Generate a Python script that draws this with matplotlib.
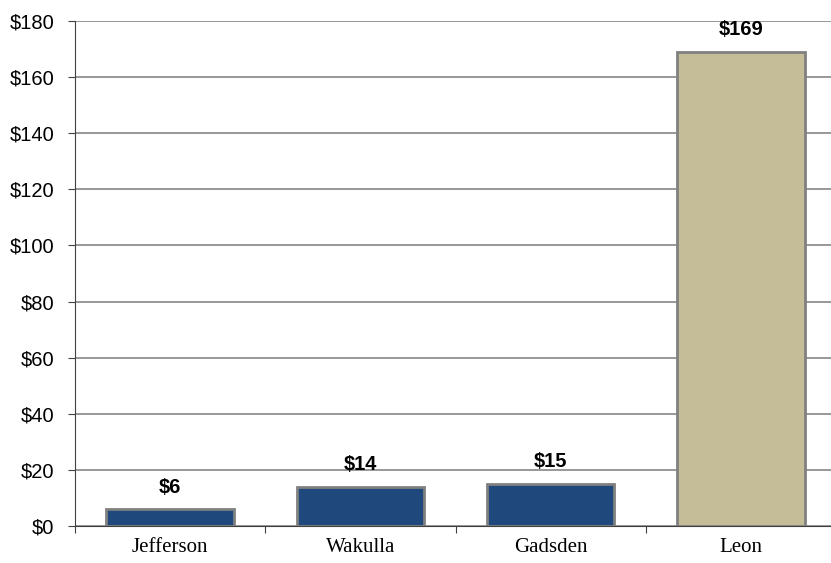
import matplotlib.pyplot as plt
import numpy as np

# county values in $ millions
counties = ["Jefferson", "Wakulla", "Gadsden", "Leon"]
values = [6, 14, 15, 169]
labels = ["$6", "$14", "$15", "$169"]
yticks = [0, 20, 40, 60, 80, 100, 120, 140, 160, 180]

colors = ["#1F497D", "#1F497D", "#1F497D", "#C4BD97"]

fig = plt.figure(figsize=(8.31, 5.63), dpi=100)
ax = fig.add_axes([75 / 831, 1 - 526 / 563, 761 / 831, 505 / 563])

x = np.arange(len(counties))
bars = ax.bar(x, values, width=0.67, color=colors, edgecolor="#808080", linewidth=2, zorder=3)

for b, lab in zip(bars, labels):
    ax.annotate(lab, (b.get_x() + b.get_width() / 2, b.get_height()),
                xytext=(0, 9), textcoords="offset points", ha="center", va="bottom",
                fontsize=14.5, fontweight="bold", family="Liberation Sans")

ax.set_xlim(-0.5, len(counties) - 0.5)
ax.set_ylim(0, 180)
ax.set_yticks(yticks)
ax.set_yticklabels(["$" + str(v) for v in yticks], family="Liberation Sans", fontsize=14.5)
ax.yaxis.grid(True, color="#868686", linewidth=1.2, zorder=0)

# categories labelled between tick marks
ax.set_xticks(np.arange(len(counties) + 1) - 0.5)
ax.set_xticklabels([])
ax.set_xticks(x, minor=True)
ax.set_xticklabels(counties, minor=True, family="Liberation Serif", fontsize=15)
ax.tick_params(axis="x", which="minor", length=0, pad=9)
ax.tick_params(axis="x", which="major", length=5, color="#404040")
ax.tick_params(axis="y", length=5, color="#404040", pad=10)

for s in ["top", "right"]:
    ax.spines[s].set_visible(False)
ax.spines["left"].set_color("#404040")
ax.spines["bottom"].set_color("#404040")

fig.savefig("out.png", dpi=100)
